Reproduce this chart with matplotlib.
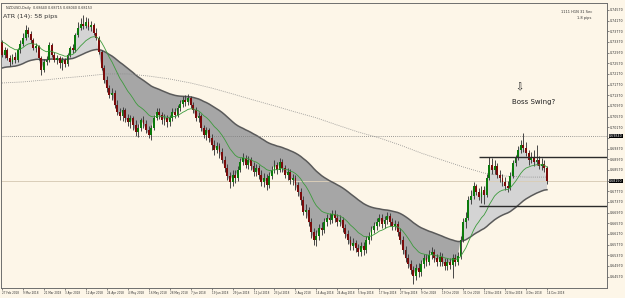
import matplotlib
matplotlib.use("Agg")
import matplotlib.pyplot as plt
import matplotlib.transforms as mtransforms

# NZDUSD daily candles, 27 Feb 2018 .. 14 Dec 2018
opens = [
    .7337, .7288, .7307, .7277, .7262, .7280, .7269, .7307, .7329, .7352,
    .7382, .7367, .7344, .7314, .7322, .7277, .7232, .7262, .7269, .7325,
    .7288, .7269, .7277, .7258, .7269, .7254, .7288, .7314, .7307, .7363,
    .7389, .7404, .7397, .7412, .7393, .7400, .7370, .7352, .7299, .7239,
    .7194, .7164, .7138, .7145, .7100, .7074, .7059, .7082, .7052, .7037,
    .7052, .7025, .6999, .7014, .7044, .7029, .7007, .6988, .7014, .7052,
    .7074, .7063, .7044, .7052, .7037, .7052, .7074, .7063, .7089, .7104,
    .7119, .7112, .7127, .7100, .7082, .7052, .7059, .7014, .6988, .7007,
    .6977, .6950, .6932, .6947, .6924, .6894, .6864, .6834, .6812, .6838,
    .6827, .6857, .6887, .6902, .6875, .6894, .6872, .6849, .6864, .6838,
    .6812, .6827, .6800, .6834, .6857, .6875, .6857, .6887, .6864, .6838,
    .6849, .6819, .6827, .6800, .6774, .6744, .6699, .6707, .6662, .6624,
    .6594, .6609, .6639, .6632, .6662, .6677, .6669, .6692, .6677, .6662,
    .6669, .6639, .6617, .6594, .6572, .6583, .6564, .6549, .6572, .6557,
    .6594, .6609, .6632, .6647, .6662, .6677, .6654, .6669, .6684, .6662,
    .6647, .6654, .6624, .6594, .6557, .6527, .6504, .6482, .6459, .6489,
    .6474, .6504, .6527, .6512, .6538, .6549, .6527, .6512, .6530, .6512,
    .6497, .6512, .6500, .6527, .6512, .6534, .6594, .6662, .6677, .6744,
    .6759, .6797, .6774, .6755, .6782, .6763, .6827, .6875, .6857, .6872,
    .6838, .6827, .6812, .6797, .6789, .6834, .6883, .6902, .6932, .6950,
    .6939, .6920, .6894, .6902, .6887, .6894, .6872, .6879, .6864,
]
highs = [
    .7344, .7318, .7314, .7288, .7292, .7299, .7314, .7344, .7370, .7400,
    .7393, .7378, .7352, .7333, .7325, .7284, .7273, .7284, .7337, .7333,
    .7299, .7288, .7284, .7280, .7277, .7295, .7322, .7329, .7370, .7412,
    .7427, .7438, .7430, .7427, .7415, .7408, .7389, .7359, .7307, .7250,
    .7209, .7175, .7164, .7157, .7119, .7089, .7093, .7089, .7067, .7063,
    .7059, .7044, .7029, .7052, .7059, .7044, .7022, .7025, .7063, .7089,
    .7089, .7074, .7067, .7063, .7063, .7089, .7089, .7100, .7119, .7134,
    .7138, .7142, .7134, .7112, .7093, .7074, .7067, .7025, .7018, .7014,
    .6992, .6969, .6962, .6958, .6939, .6909, .6879, .6849, .6857, .6857,
    .6872, .6902, .6920, .6913, .6909, .6905, .6887, .6879, .6875, .6857,
    .6845, .6842, .6849, .6872, .6894, .6887, .6902, .6898, .6875, .6864,
    .6860, .6842, .6838, .6812, .6789, .6759, .6729, .6718, .6677, .6639,
    .6632, .6654, .6662, .6677, .6692, .6695, .6707, .6707, .6692, .6688,
    .6680, .6654, .6632, .6609, .6602, .6594, .6579, .6587, .6587, .6609,
    .6624, .6647, .6662, .6677, .6692, .6692, .6684, .6699, .6695, .6677,
    .6669, .6665, .6639, .6609, .6572, .6542, .6519, .6497, .6504, .6508,
    .6519, .6542, .6542, .6557, .6568, .6560, .6542, .6549, .6545, .6527,
    .6527, .6527, .6542, .6542, .6549, .6609, .6677, .6699, .6759, .6782,
    .6812, .6804, .6789, .6797, .6797, .6842, .6905, .6902, .6894, .6883,
    .6857, .6842, .6830, .6815, .6849, .6894, .6913, .6947, .6969, .6995,
    .6962, .6932, .6924, .6932, .6950, .6909, .6902, .6894, .6872,
]
lows = [
    .7280, .7277, .7269, .7247, .7254, .7258, .7262, .7295, .7322, .7344,
    .7355, .7333, .7307, .7299, .7269, .7213, .7224, .7250, .7262, .7280,
    .7262, .7254, .7239, .7232, .7243, .7247, .7280, .7295, .7299, .7355,
    .7382, .7385, .7389, .7382, .7378, .7363, .7344, .7292, .7232, .7183,
    .7149, .7127, .7119, .7089, .7063, .7044, .7040, .7037, .7022, .7014,
    .7007, .6984, .6980, .7003, .7014, .6995, .6977, .6969, .7007, .7044,
    .7048, .7029, .7025, .7018, .7022, .7040, .7052, .7055, .7078, .7093,
    .7097, .7100, .7089, .7070, .7040, .7037, .7003, .6977, .6969, .6962,
    .6932, .6913, .6920, .6902, .6883, .6849, .6819, .6789, .6797, .6808,
    .6815, .6849, .6875, .6864, .6860, .6857, .6834, .6834, .6823, .6797,
    .6793, .6782, .6789, .6823, .6845, .6842, .6849, .6849, .6827, .6819,
    .6804, .6800, .6782, .6759, .6725, .6688, .6677, .6647, .6602, .6575,
    .6572, .6594, .6613, .6620, .6647, .6654, .6658, .6662, .6647, .6647,
    .6624, .6602, .6579, .6557, .6557, .6549, .6534, .6534, .6538, .6545,
    .6579, .6594, .6620, .6632, .6647, .6639, .6639, .6654, .6647, .6632,
    .6632, .6609, .6579, .6542, .6512, .6489, .6467, .6429, .6444, .6455,
    .6459, .6489, .6497, .6500, .6523, .6512, .6497, .6497, .6497, .6482,
    .6482, .6485, .6452, .6497, .6500, .6523, .6587, .6639, .6669, .6729,
    .6748, .6763, .6744, .6733, .6729, .6755, .6819, .6842, .6842, .6827,
    .6812, .6797, .6782, .6774, .6782, .6827, .6872, .6894, .6920, .6924,
    .6909, .6875, .6883, .6872, .6875, .6860, .6857, .6849, .6804,
]
closes = [
    .7288, .7307, .7277, .7262, .7280, .7269, .7307, .7329, .7352, .7382,
    .7367, .7344, .7314, .7322, .7277, .7232, .7262, .7269, .7325, .7288,
    .7269, .7277, .7258, .7269, .7254, .7288, .7314, .7307, .7363, .7389,
    .7404, .7397, .7412, .7393, .7400, .7370, .7352, .7299, .7239, .7194,
    .7164, .7138, .7145, .7100, .7074, .7059, .7082, .7052, .7037, .7052,
    .7025, .6999, .7014, .7044, .7029, .7007, .6988, .7014, .7052, .7074,
    .7063, .7044, .7052, .7037, .7052, .7074, .7063, .7089, .7104, .7119,
    .7112, .7127, .7100, .7082, .7052, .7059, .7014, .6988, .7007, .6977,
    .6950, .6932, .6947, .6924, .6894, .6864, .6834, .6812, .6838, .6827,
    .6857, .6887, .6902, .6875, .6894, .6872, .6849, .6864, .6838, .6812,
    .6827, .6800, .6834, .6857, .6875, .6857, .6887, .6864, .6838, .6849,
    .6819, .6827, .6800, .6774, .6744, .6699, .6707, .6662, .6624, .6594,
    .6609, .6639, .6632, .6662, .6677, .6669, .6692, .6677, .6662, .6669,
    .6639, .6617, .6594, .6572, .6583, .6564, .6549, .6572, .6557, .6594,
    .6609, .6632, .6647, .6662, .6677, .6654, .6669, .6684, .6662, .6647,
    .6654, .6624, .6594, .6557, .6527, .6504, .6482, .6459, .6489, .6474,
    .6504, .6527, .6512, .6538, .6549, .6527, .6512, .6530, .6512, .6497,
    .6512, .6500, .6527, .6512, .6534, .6594, .6662, .6677, .6744, .6759,
    .6797, .6774, .6755, .6782, .6763, .6827, .6875, .6857, .6872, .6838,
    .6827, .6812, .6797, .6789, .6834, .6883, .6902, .6932, .6950, .6939,
    .6920, .6894, .6902, .6887, .6894, .6872, .6879, .6864, .6815,
]

date_labels = [
    "27 Feb 2018", "9 Mar 2018", "21 Mar 2018", "3 Apr 2018", "12 Apr 2018",
    "24 Apr 2018", "4 May 2018", "16 May 2018", "28 May 2018", "7 Jun 2018",
    "19 Jun 2018", "29 Jun 2018", "11 Jul 2018", "23 Jul 2018", "2 Aug 2018",
    "14 Aug 2018", "24 Aug 2018", "5 Sep 2018", "17 Sep 2018", "27 Sep 2018",
    "9 Oct 2018", "19 Oct 2018", "31 Oct 2018", "12 Nov 2018", "22 Nov 2018",
    "4 Dec 2018", "14 Dec 2018",
]
label_every = 8

price_ticks = [
    0.74570, 0.74170, 0.73770, 0.73370, 0.72970, 0.72570, 0.72170, 0.71770,
    0.71370, 0.70970, 0.70570, 0.70170, 0.69770, 0.69370, 0.68970, 0.68570,
    0.68170, 0.67770, 0.67370, 0.66970, 0.66570, 0.66170, 0.65770, 0.65370,
    0.64970, 0.64570,
]

# 200-day moving average, read every 8 bars
ma200 = [
    .7183, .7187, .7194, .7202, .7209, .7217, .7217, .7209, .7198, .7183,
    .7164, .7142, .7119, .7097, .7074, .7052, .7025, .6999, .6977, .6950,
    .6920, .6894, .6868, .6845, .6834, .6830, .6830,
]

slow_period, slow_start = 50, .7239
fast_period, fast_start = 15, .7337

level_top = 0.6905
level_bottom = 0.6722
level_from_bar = 182
old_high = 0.6984

bg = "#FDF6E8"
small = 2.3


def ema(values, period, start):
    a = 2.0 / (period + 1)
    out = [start]
    for v in values[1:]:
        out.append(out[-1] + a * (v - out[-1]))
    return out


n = len(closes)
bars = list(range(n))
slow = ema(closes, slow_period, slow_start)
fast = ema(closes, fast_period, fast_start)

fig = plt.figure(figsize=(6.25, 2.98), dpi=100, facecolor=bg)
ax = fig.add_axes([1 / 625, 10 / 298, 606 / 625, 285 / 298], facecolor=bg)

# shaded band between price and the slow average
up = [c >= s for c, s in zip(closes, slow)]
ax.fill_between(bars, closes, slow, where=up, interpolate=True,
                color="#D4D4D4", lw=0, zorder=1)
ax.fill_between(bars, closes, slow, where=[not u for u in up], interpolate=True,
                color="#A6A6A6", lw=0, zorder=1)
ax.plot(bars, slow, color="#5A5A5A", lw=1.1, zorder=2)
ax.plot(bars, fast, color="#3C9A3C", lw=0.6, zorder=4)
ax.plot([i * label_every for i in range(len(ma200))], ma200,
        color="#8A8A8A", lw=0.6, ls=(0, (1, 1.5)), zorder=2)

# candles
for i in bars:
    o, h, l, c = opens[i], highs[i], lows[i], closes[i]
    col = "#0B7A0B" if c >= o else "#7A0B0B"
    ax.vlines(i, l, h, color="#3A3A3A", lw=0.65, zorder=3)
    ax.bar(i, max(abs(c - o), 0.00008), bottom=min(o, c), width=0.72,
           color=col, lw=0, zorder=3)

# horizontal levels
ax.axhline(old_high, color="#7A7A7A", lw=0.6, ls=(0, (1, 1.5)), zorder=2)
ax.axhline(closes[-1], color="#D9CDB8", lw=0.7, zorder=1)
ax.hlines([level_top, level_bottom], level_from_bar, 231, color="#2B2B2B",
          lw=1.0, zorder=4)

ax.set_xlim(-0.38, 230.9)
ax.set_ylim(0.6414, 0.7483)

ax.set_xticks([i * label_every for i in range(len(date_labels))])
ax.set_xticklabels(date_labels, ha="left", fontsize=2.0, color="#333333")
ax.yaxis.tick_right()
ax.set_yticks(price_ticks)
# the tick hidden under the highlighted level label gets no text
ax.set_yticklabels(["" if abs(p - old_high) < 0.0012 else f"{p:.5f}"
                    for p in price_ticks], fontsize=small, color="#333333")
ax.tick_params(axis="both", length=1.5, width=0.5, pad=0.8, colors="#555555")
ax.tick_params(axis="x", labelcolor="#333333")
ax.tick_params(axis="y", labelcolor="#333333")
for s in ax.spines.values():
    s.set_color("#6E6E6E")
    s.set_linewidth(0.7)

# highlighted prices on the scale
tr = mtransforms.blended_transform_factory(ax.transAxes, ax.transData)
for p in (old_high, closes[-1]):
    ax.text(1.0035, p, f"{p:.5f}", transform=tr, fontsize=small, color="white",
            va="center", ha="left", zorder=10,
            bbox=dict(boxstyle="square,pad=0.1", fc="black", ec="none"))

# texts
ax.text(0.009, 0.99, "NZDUSD,Daily  0.68640 0.68715 0.68040 0.68153",
        transform=ax.transAxes, fontsize=2.4, color="#333333", va="top")
ax.text(0.004, 0.96, "ATR (14): 58 pips", transform=ax.transAxes,
        fontsize=4.6, color="#333333", va="top")
ax.text(0.975, 0.975, "1111 H1N 31 Sec", transform=ax.transAxes,
        fontsize=2.6, color="#333333", va="top", ha="right")
ax.text(0.975, 0.955, "1.8 pips", transform=ax.transAxes,
        fontsize=2.6, color="#333333", va="top", ha="right")
ax.text(197.5, 0.7165, "\u21e9", fontsize=7, color="#222222",
        ha="center", va="center")
ax.text(194.8, 0.7112, "Boss Swing?", fontsize=5.0, color="#222222",
        ha="left", va="center")

fig.savefig("out.png", dpi=100, facecolor=bg)
